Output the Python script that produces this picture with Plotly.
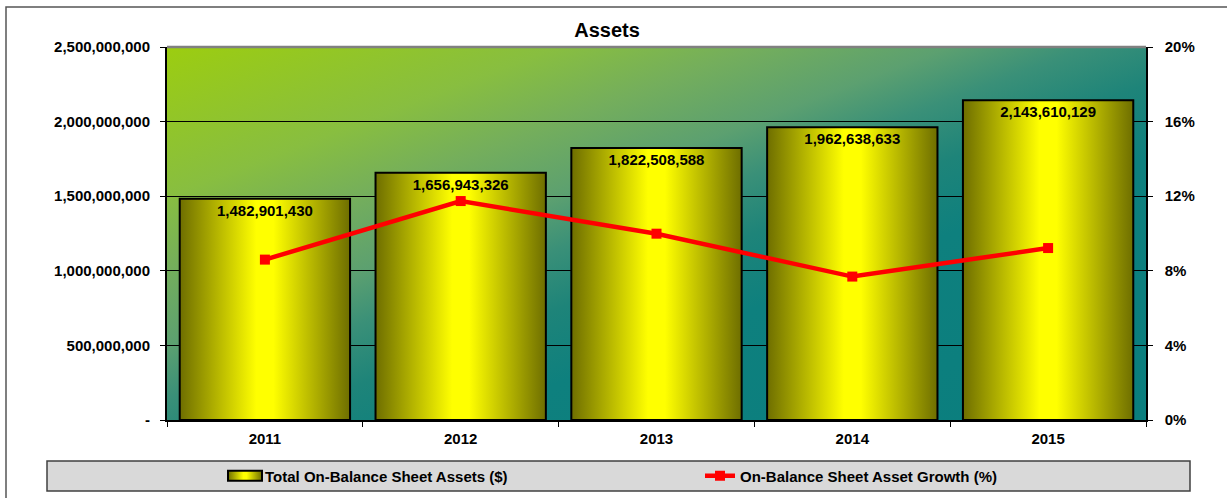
import base64
import plotly.graph_objects as go

# ---------------- data ----------------
years = [2011, 2012, 2013, 2014, 2015]
year_labels = ["2011", "2012", "2013", "2014", "2015"]
total_assets = [1482901430, 1656943326, 1822508588, 1962638633, 2143610129]
asset_growth = [8.6, 11.74, 9.99, 7.69, 9.22]   # percent

left_tickvals = [0, 500000000, 1000000000, 1500000000, 2000000000, 2500000000]
left_ticktext = ["-", "500,000,000", "1,000,000,000", "1,500,000,000",
                 "2,000,000,000", "2,500,000,000"]
right_tickvals = [0, 4, 8, 12, 16, 20]
right_ticktext = ["0%", "4%", "8%", "12%", "16%", "20%"]

# ---------------- layout constants ----------------
W, H = 1227, 498
ML, MR, MT, MB = 167, 81, 47, 78
PW, PH = W - ML - MR, H - MT - MB
FONT = "Liberation Sans, Arial, sans-serif"


def px_x(p):
    return (p - ML) / PW


def px_y(p):
    return (H - MB - p) / PH


# background gradient (diagonal) as an SVG image
bg_svg = (
    '<svg xmlns="http://www.w3.org/2000/svg" width="100" height="100" '
    'viewBox="0 0 1 1" preserveAspectRatio="none">'
    '<defs><linearGradient id="g" x1="0" y1="0" x2="1" y2="1">'
    '<stop offset="0" stop-color="#9CCD10"/>'
    '<stop offset="0.2" stop-color="#88BE40"/>'
    '<stop offset="0.3" stop-color="#74AE5C"/>'
    '<stop offset="0.4" stop-color="#5CA070"/>'
    '<stop offset="0.47" stop-color="#3A9078"/>'
    '<stop offset="0.55" stop-color="#1E8479"/>'
    '<stop offset="0.65" stop-color="#0E807E"/>'
    '<stop offset="1" stop-color="#0A7E7E"/>'
    '</linearGradient></defs>'
    '<rect x="0" y="0" width="1" height="1" fill="url(#g)"/></svg>'
)
bg_uri = "data:image/svg+xml;base64," + base64.b64encode(bg_svg.encode()).decode()

fig = go.Figure()

fig.add_trace(go.Bar(
    x=years, y=total_assets, width=0.87,
    name="Total On-Balance Sheet Assets ($)",
    marker=dict(color="#E6E600", line=dict(color="black", width=2)),
    texttemplate="%{y:,.0f}", textposition="inside", insidetextanchor="end",
    textangle=0, constraintext="none",
    insidetextfont=dict(family=FONT, size=15, color="black", weight="bold"),
    yaxis="y",
))

fig.add_trace(go.Scatter(
    x=years, y=asset_growth, yaxis="y2", mode="lines+markers",
    name="On-Balance Sheet Asset Growth (%)",
    line=dict(color="#FF0000", width=4.5),
    marker=dict(symbol="square", size=10, color="#FF0000"),
))

boundaries = [years[0] - 0.5] + [y + 0.5 for y in years]

fig.update_layout(
    width=W, height=H,
    margin=dict(l=ML, r=MR, t=MT, b=MB),
    paper_bgcolor="white",
    plot_bgcolor="rgba(0,0,0,0)",
    font=dict(family=FONT, size=15, color="black", weight="bold"),
    title=dict(text="<b>Assets</b>", x=607 / W, xanchor="center", y=1 - 30 / H,
               yanchor="middle", font=dict(family=FONT, size=20, color="black")),
    bargap=0.13,
    showlegend=True,
    legend=dict(orientation="h", xref="container", yref="container",
                x=225 / W, xanchor="left", y=1 - 476 / H,
                yanchor="middle", bgcolor="rgba(0,0,0,0)",
                font=dict(family=FONT, size=15, color="black", weight="bold"),
                entrywidth=430, entrywidthmode="pixels", traceorder="normal"),
    xaxis=dict(
        type="linear", range=[years[0] - 0.5, years[-1] + 0.5],
        tickmode="array", tickvals=years, ticktext=year_labels, ticks="",
        ticklabelstandoff=4, automargin=False,
        showgrid=False, zeroline=False,
        showline=True, linecolor="black", linewidth=2,
        tickfont=dict(family=FONT, size=15, color="black", weight="bold"),
        minor=dict(tickmode="array", tickvals=boundaries, ticks="outside",
                   ticklen=5, tickcolor="black", tickwidth=1, showgrid=False),
    ),
    yaxis=dict(
        range=[0, 2500000000], tickmode="array", tickvals=left_tickvals,
        ticktext=left_ticktext, ticks="outside", ticklen=5, tickcolor="black",
        ticklabelstandoff=7, automargin=False,
        showline=True, linecolor="black", linewidth=2,
        showgrid=True, gridcolor="black", gridwidth=1, zeroline=False,
        tickfont=dict(family=FONT, size=15, color="black", weight="bold"),
    ),
    yaxis2=dict(
        range=[0, 20], overlaying="y", side="right", tickmode="array",
        tickvals=right_tickvals, ticktext=right_ticktext, ticks="outside",
        ticklen=5, ticklabelstandoff=9, automargin=False,
        tickcolor="black", showline=True, linecolor="black", linewidth=1.5,
        showgrid=False, zeroline=False,
        tickfont=dict(family=FONT, size=15, color="black", weight="bold"),
    ),
    images=[dict(source=bg_uri, xref="paper", yref="paper", x=0, y=1,
                 sizex=1, sizey=1, xanchor="left", yanchor="top",
                 sizing="stretch", layer="below")],
    shapes=[
        # top border of plot area
        dict(type="line", xref="paper", yref="paper", x0=0, x1=1, y0=1, y1=1,
             line=dict(color="#808080", width=2.5)),
        # outer chart frame
        dict(type="rect", xref="paper", yref="paper",
             x0=px_x(6), x1=px_x(1240), y0=px_y(520), y1=px_y(7),
             line=dict(color="#555555", width=1.5), fillcolor="rgba(0,0,0,0)",
             layer="below"),
        # legend box
        dict(type="rect", xref="paper", yref="paper",
             x0=px_x(47), x1=px_x(1190), y0=px_y(491), y1=px_y(461),
             line=dict(color="#404040", width=1.5), fillcolor="#D9D9D9",
             layer="below"),
    ],
)

post_script = """
document.body.style.margin = '0';
document.body.style.padding = '0';
var gd = document.getElementById('{plot_id}');
var ns = 'http://www.w3.org/2000/svg';
var svg = gd.querySelector('svg.main-svg');
var defs = svg.querySelector('defs');
if (!defs) { defs = document.createElementNS(ns, 'defs'); svg.insertBefore(defs, svg.firstChild); }
var lg = document.createElementNS(ns, 'linearGradient');
lg.setAttribute('id', 'barGradAssets');
lg.setAttribute('x1', '0'); lg.setAttribute('y1', '0');
lg.setAttribute('x2', '1'); lg.setAttribute('y2', '0');
[['0', '#6E6E00'], ['0.45', '#FFFF00'], ['0.55', '#FFFF00'], ['1', '#6E6E00']].forEach(function(s) {
  var st = document.createElementNS(ns, 'stop');
  st.setAttribute('offset', s[0]); st.setAttribute('stop-color', s[1]);
  lg.appendChild(st);
});
defs.appendChild(lg);
function paint() {
  gd.querySelectorAll('.barlayer .point path').forEach(function(p) { p.style.fill = 'url(#barGradAssets)'; });
  var items = gd.querySelectorAll('.legend .traces');
  if (items.length) {
    items[0].querySelectorAll('.legendpoints path').forEach(function(p) {
      p.style.fill = 'url(#barGradAssets)';
      p.setAttribute('d', 'M17,5H-17V-5H17Z');
    });
  }
}
paint();
gd.on('plotly_afterplot', paint);
"""

fig.write_html("out.html", post_script=post_script,
               config={"displayModeBar": False})
